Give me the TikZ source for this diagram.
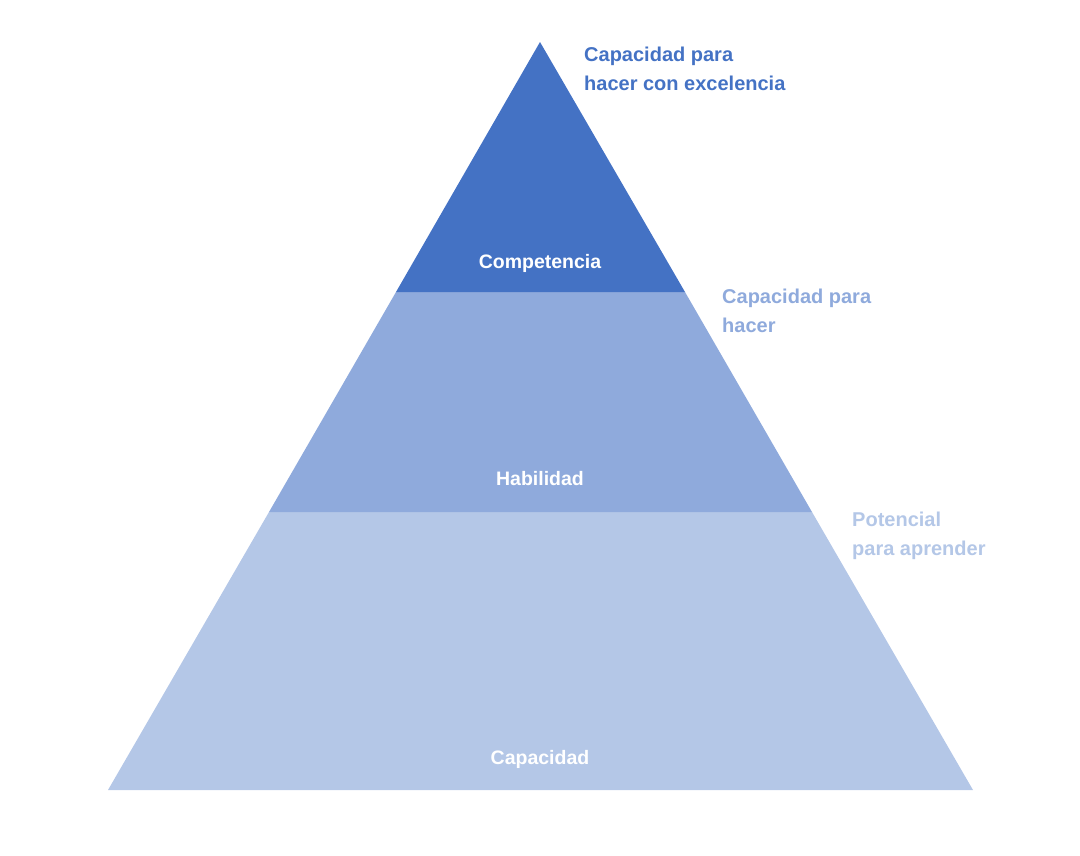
\documentclass[tikz,border=0pt]{standalone}
\usepackage{fontspec}
\setmainfont{Liberation Sans}
\definecolor{cA}{HTML}{4472C4}
\definecolor{cB}{HTML}{8FAADC}
\definecolor{cC}{HTML}{B4C7E7}
\begin{document}
\begin{tikzpicture}[x=1pt,y=-1pt,
  inlab/.style={text=white,font=\fontsize{19.5}{22}\selectfont\bfseries,anchor=center},
  outlab/.style={font=\fontsize{20}{29.5}\selectfont\bfseries,anchor=west,align=left,inner sep=0pt}]
\useasboundingbox (0,0) rectangle (1080,855);
\coordinate (apex) at (540,42);
\coordinate (l1) at (396,292);
\coordinate (r1) at (685,292);
\coordinate (l2) at (269,512);
\coordinate (r2) at (812,512);
\coordinate (bl) at (108,790);
\coordinate (br) at (973,790);
\fill[cC] (l2) -- (r2) -- (br) -- (bl) -- cycle;
\fill[cB] (l1) -- (r1) -- (r2) -- (l2) -- cycle;
\fill[cA] (apex) -- (r1) -- (l1) -- cycle;
\node[inlab] (comp) at (540,263) {Competencia};
\node[inlab] (hab) at (540,479) {Habilidad};
\node[inlab] (cap) at (540,759) {Capacidad};
\node[outlab,text=cA] (t1) at (584,69) {Capacidad para\\hacer con excelencia};
\node[outlab,text=cB] (t2) at (722,311) {Capacidad para\\hacer};
\node[outlab,text=cC] (t3) at (852,536) {Potencial\\para aprender};
\end{tikzpicture}
\end{document}
